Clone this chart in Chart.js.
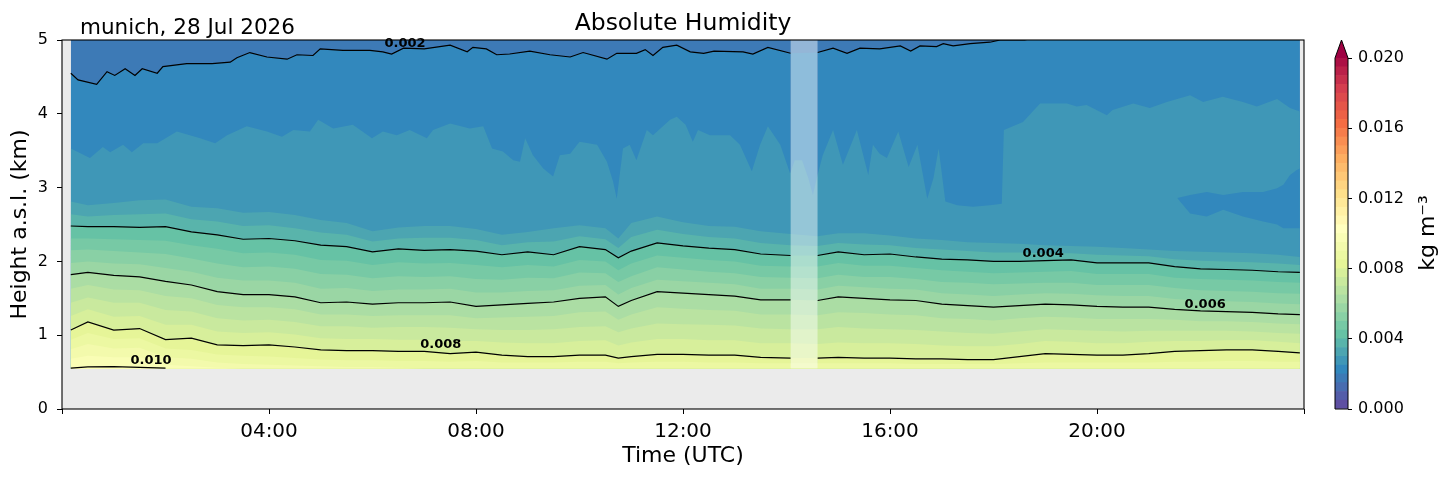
<!DOCTYPE html>
<html><head><meta charset="utf-8">
<script src="https://cdn.jsdelivr.net/npm/chart.js@4.4.1/dist/chart.umd.min.js"></script>
<style>
html,body{margin:0;padding:0;background:#fff;width:1454px;height:478px;overflow:hidden}
#main{position:absolute;left:0;top:0}
#cbar{position:absolute;left:1300px;top:0}
</style></head><body>
<canvas id="main" width="1454" height="478"></canvas>
<canvas id="cbar" width="154" height="478"></canvas>
<script>
// ---------------- DATA ----------------
const chartTitle = 'Absolute Humidity';
const siteLabel = 'munich, 28 Jul 2026';
const xTitle = 'Time (UTC)';
const yTitle = 'Height a.s.l. (km)';
const cbarTitle = 'kg m\u207B\u00B3';

const xTicks = [0, 4, 8, 12, 16, 20, 24];
const yTicks = [0, 1, 2, 3, 4, 5];
const cbarTicks = [0, 0.004, 0.008, 0.012, 0.016, 0.020];
const levels = [0,0.0005,0.001,0.0015,0.002,0.0025,0.003,0.0035,0.004,0.0045,0.005,0.0055,0.006,0.0065,0.007,0.0075,0.008,0.0085,0.009,0.0095,0.010,0.0105,0.011,0.0115,0.012,0.0125,0.013,0.0135,0.014,0.0145,0.015,0.0155,0.016,0.0165,0.017,0.0175,0.018,0.0185,0.019,0.0195,0.020];

const dataStart = 0.17, dataEnd = 23.92, dataBottom = 0.55, dataTop = 5;
const gapStart = 14.08, gapEnd = 14.6;

// common time grid (hours UTC)
const hours = [0.17,0.5,1,1.5,2,2.5,3,3.5,4,4.5,5,5.5,6,6.5,7,7.5,8,8.5,9,9.5,10,10.5,10.75,11,11.5,12,12.5,13,13.5,14.08,14.6,15,15.5,16,16.5,17,17.5,18,18.5,19,19.5,20,20.5,21,21.5,22,22.5,23,23.5,23.92];

// isoline heights (km)
const iso002Hours = [0.17,0.31,0.67,0.87,1.02,1.22,1.41,1.55,1.84,1.95,2.41,2.9,3.25,3.38,3.63,3.96,4.35,4.54,4.85,4.99,5.43,5.95,6.2,6.37,6.6,7.0,7.5,7.83,7.94,8.2,8.4,8.65,9.04,9.43,9.82,10.07,10.53,10.72,11.1,11.27,11.42,11.61,11.88,12.14,12.4,12.6,13.16,13.35,13.64,14.08,14.6,14.9,15.17,15.42,15.8,16.2,16.4,16.58,16.9,17.03,17.22,17.55,17.93,18.13,18.6,18.9,19.5,23.92];
const iso002 = [4.55,4.46,4.40,4.57,4.52,4.61,4.52,4.61,4.55,4.64,4.68,4.68,4.70,4.76,4.83,4.77,4.74,4.80,4.79,4.88,4.86,4.86,4.84,4.81,4.89,4.88,4.93,4.84,4.90,4.88,4.80,4.81,4.85,4.80,4.77,4.83,4.74,4.82,4.82,4.87,4.79,4.90,4.93,4.84,4.82,4.85,4.84,4.81,4.90,4.82,4.83,4.89,4.82,4.89,4.88,4.92,4.85,4.92,4.91,4.95,4.92,4.95,4.97,5.0,5.0,5.05,5.12,5.15];

const iso0025Hours = [0.17,0.54,0.79,0.93,1.18,1.35,1.57,1.84,2.22,2.67,2.96,3.19,3.57,3.96,4.25,4.47,4.79,4.95,5.24,5.62,5.99,6.2,6.47,6.72,7.05,7.17,7.5,7.88,8.14,8.31,8.52,8.72,8.85,8.95,9.1,9.3,9.49,9.62,9.82,10.0,10.34,10.53,10.65,10.72,10.84,10.97,11.1,11.3,11.42,11.75,11.88,12.05,12.19,12.29,12.52,12.91,13.1,13.33,13.49,13.64,13.88,14.07,14.16,14.3,14.42,14.51,14.6,14.7,14.9,15.09,15.36,15.58,15.67,15.8,15.94,16.16,16.36,16.53,16.72,16.84,16.94,17.07,17.3,17.6,17.93,18.16,18.2,18.57,18.9,19.42,19.61,19.8,20.19,20.3,20.7,21.02,21.35,21.8,22.05,22.43,22.82,23.09,23.48,23.73,23.92];
const iso0025 = [3.53,3.40,3.55,3.48,3.58,3.48,3.60,3.60,3.76,3.67,3.60,3.71,3.83,3.76,3.69,3.78,3.76,3.92,3.80,3.85,3.67,3.76,3.71,3.78,3.67,3.78,3.87,3.80,3.83,3.53,3.49,3.37,3.35,3.67,3.44,3.26,3.15,3.44,3.46,3.62,3.58,3.35,3.08,2.85,3.53,3.58,3.37,3.78,3.71,3.92,3.96,3.85,3.62,3.78,3.71,3.71,3.58,3.22,3.58,3.83,3.58,3.19,3.37,3.37,3.13,2.90,3.17,3.44,3.78,3.31,3.78,3.17,3.58,3.46,3.40,3.76,3.28,3.58,2.85,3.13,3.53,2.81,2.76,2.74,2.76,2.78,3.78,3.89,4.14,4.14,4.10,4.12,3.98,4.05,4.14,4.08,4.16,4.25,4.16,4.23,4.16,4.10,4.20,4.08,4.03];

// drier pocket (0.002-0.0025) inside the moister layer, late evening
const pocketHours = [21.55,21.8,22.12,22.44,22.82,23.21,23.48,23.6,23.73,23.86,23.92];
const pocketLow  = [2.86,2.65,2.61,2.70,2.61,2.54,2.50,2.45,2.45,2.45,2.45];
const pocketHigh = [2.86,2.90,2.94,2.90,2.94,2.94,2.99,3.04,3.17,3.24,3.26];

const iso003  = [2.81,2.76,2.79,2.83,2.84,2.74,2.72,2.66,2.67,2.63,2.56,2.52,2.41,2.46,2.48,2.48,2.44,2.36,2.40,2.45,2.49,2.45,2.31,2.52,2.61,2.53,2.48,2.47,2.41,2.37,2.34,2.38,2.38,2.35,2.31,2.29,2.26,2.25,2.24,2.22,2.21,2.20,2.18,2.16,2.14,2.13,2.12,2.11,2.09,2.06];
const iso0035 = [2.64,2.61,2.63,2.64,2.65,2.57,2.54,2.48,2.49,2.45,2.39,2.36,2.27,2.31,2.32,2.32,2.29,2.22,2.26,2.27,2.34,2.30,2.18,2.33,2.43,2.37,2.33,2.31,2.25,2.22,2.21,2.25,2.23,2.22,2.18,2.16,2.14,2.12,2.12,2.11,2.11,2.09,2.08,2.07,2.03,2.01,2.00,1.99,1.97,1.95];
const iso004  = [2.48,2.47,2.47,2.46,2.47,2.40,2.36,2.30,2.31,2.28,2.22,2.20,2.13,2.17,2.15,2.16,2.14,2.09,2.13,2.09,2.20,2.16,2.05,2.14,2.25,2.21,2.18,2.16,2.10,2.08,2.08,2.13,2.09,2.10,2.06,2.03,2.02,2.00,2.00,2.01,2.02,1.98,1.98,1.98,1.93,1.90,1.89,1.88,1.86,1.85];
const iso0045 = [2.31,2.31,2.30,2.29,2.28,2.22,2.17,2.11,2.12,2.09,2.02,2.01,1.95,1.99,1.97,1.98,1.95,1.92,1.95,1.93,2.02,2.00,1.88,1.97,2.08,2.05,2.02,2.00,1.94,1.93,1.93,1.98,1.94,1.94,1.91,1.88,1.86,1.84,1.85,1.86,1.87,1.83,1.83,1.83,1.78,1.76,1.75,1.74,1.72,1.71];
const iso005  = [2.15,2.16,2.14,2.12,2.10,2.04,1.97,1.92,1.93,1.90,1.83,1.82,1.77,1.80,1.79,1.80,1.76,1.75,1.78,1.77,1.85,1.84,1.72,1.80,1.92,1.89,1.86,1.84,1.79,1.78,1.77,1.82,1.79,1.79,1.76,1.72,1.71,1.69,1.70,1.71,1.71,1.68,1.68,1.68,1.64,1.61,1.60,1.59,1.57,1.56];
const iso0055 = [1.98,2.00,1.97,1.96,1.91,1.86,1.78,1.74,1.74,1.71,1.63,1.64,1.60,1.62,1.62,1.63,1.58,1.58,1.60,1.61,1.67,1.68,1.55,1.64,1.75,1.73,1.71,1.69,1.63,1.63,1.62,1.67,1.65,1.63,1.62,1.57,1.55,1.53,1.55,1.57,1.56,1.54,1.53,1.53,1.49,1.47,1.46,1.45,1.43,1.42];
const iso006  = [1.82,1.85,1.81,1.79,1.73,1.68,1.59,1.55,1.55,1.52,1.44,1.45,1.42,1.44,1.44,1.45,1.39,1.41,1.43,1.45,1.50,1.52,1.39,1.47,1.59,1.57,1.55,1.53,1.48,1.48,1.47,1.52,1.50,1.48,1.47,1.42,1.40,1.38,1.40,1.42,1.41,1.39,1.38,1.38,1.35,1.33,1.32,1.31,1.29,1.28];
const iso0065 = [1.63,1.68,1.62,1.61,1.53,1.50,1.41,1.38,1.38,1.35,1.28,1.28,1.26,1.27,1.27,1.27,1.23,1.24,1.25,1.26,1.31,1.32,1.21,1.28,1.38,1.36,1.34,1.33,1.28,1.28,1.27,1.31,1.30,1.28,1.27,1.23,1.22,1.20,1.23,1.25,1.24,1.22,1.22,1.22,1.21,1.19,1.19,1.18,1.16,1.15];
const iso007  = [1.44,1.51,1.44,1.44,1.34,1.32,1.23,1.20,1.21,1.18,1.12,1.12,1.10,1.11,1.11,1.10,1.08,1.07,1.07,1.08,1.11,1.12,1.04,1.09,1.16,1.15,1.14,1.13,1.09,1.08,1.08,1.11,1.09,1.08,1.07,1.05,1.03,1.02,1.05,1.08,1.07,1.06,1.05,1.06,1.06,1.06,1.06,1.05,1.03,1.02];
const iso0075 = [1.26,1.35,1.25,1.26,1.14,1.14,1.05,1.03,1.04,1.01,0.96,0.95,0.95,0.94,0.94,0.92,0.92,0.90,0.89,0.89,0.92,0.93,0.86,0.90,0.95,0.95,0.93,0.93,0.89,0.89,0.88,0.90,0.89,0.89,0.88,0.86,0.85,0.85,0.88,0.92,0.91,0.89,0.89,0.91,0.92,0.92,0.93,0.93,0.91,0.89];
const iso008  = [1.07,1.18,1.07,1.09,0.94,0.96,0.87,0.86,0.87,0.84,0.80,0.79,0.79,0.78,0.78,0.75,0.77,0.73,0.71,0.71,0.73,0.73,0.69,0.71,0.74,0.74,0.73,0.73,0.70,0.69,0.69,0.70,0.69,0.69,0.68,0.68,0.67,0.67,0.71,0.75,0.74,0.73,0.73,0.75,0.78,0.79,0.80,0.80,0.78,0.76];
const iso0085 = [0.94,1.03,0.95,0.96,0.82,0.80,0.74,0.72,0.71,0.69,0.67,0.66,0.66,0.65,0.65,0.64,0.65,0.63,0.63,0.63,0.64,0.64,0.62,0.63,0.64,0.64,0.63,0.63,0.62,0.62,0.62,0.62,0.62,0.62,0.61,0.61,0.61,0.61,0.62,0.63,0.63,0.63,0.63,0.63,0.64,0.64,0.65,0.65,0.64,0.64];
const iso009  = [0.81,0.88,0.82,0.83,0.70,0.68,0.63,0.61,0.60,0.59,0.58,0.57,0.57,0.56,0.55,0.55,0.55,0.55,0.55,0.55,0.55,0.55,0.55,0.55,0.55,0.55,0.55,0.55,0.55,0.55,0.55,0.55,0.55,0.55,0.55,0.55,0.55,0.55,0.55,0.55,0.55,0.55,0.55,0.55,0.55,0.55,0.55,0.55,0.55,0.55];
const iso0095 = [0.68,0.72,0.70,0.70,0.60,0.58,0.56,0.55,0.55,0.55,0.55,0.55,0.55,0.55,0.55,0.55,0.55,0.55,0.55,0.55,0.55,0.55,0.55,0.55,0.55,0.55,0.55,0.55,0.55,0.55,0.55,0.55,0.55,0.55,0.55,0.55,0.55,0.55,0.55,0.55,0.55,0.55,0.55,0.55,0.55,0.55,0.55,0.55,0.55,0.55];
const iso010  = [0.555,0.57,0.575,0.565,0.555,null,null,null,null,null,null,null,null,null,null,null,null,null,null,null,null,null,null,null,null,null,null,null,null,null,null,null,null,null,null,null,null,null,null,null,null,null,null,null,null,null,null,null,null,null];

const contourLabelText = ['0.002','0.004','0.006','0.008','0.010'];
const contourLabelHours = [6.63,18.96,22.09,7.32,1.72];
const contourLabelHeights = [4.95,2.10,1.41,0.87,0.65];

// ---------------- STYLE ----------------
const FONT = 'DejaVu Sans';
Chart.defaults.font.family = FONT;
const SPECTRAL_R = [[94,79,162],[50,136,189],[102,194,165],[171,221,164],[230,245,152],[255,255,191],[254,224,139],[253,174,97],[244,109,67],[213,62,79],[158,1,66]];
function spectralR(f){
  f = Math.min(1, Math.max(0, f));
  const p = f*10, k = Math.min(9, Math.floor(p)), u = p-k;
  const a = SPECTRAL_R[k], b = SPECTRAL_R[k+1];
  return 'rgb(' + [0,1,2].map(j=>Math.round(a[j]+(b[j]-a[j])*u)).join(',') + ')';
}
const levelMax = levels[levels.length-1];
function bandColor(lower){ return spectralR(lower/levelMax); }

const gapSeg = c => (c.p0.parsed.x >= gapStart-0.02 && c.p1.parsed.x <= gapEnd+0.02) ? 'rgba(0,0,0,0)' : '#000';
function pts(xs, ys){ return xs.map((x,k)=>({x:x, y:ys[k]})); }
function band(lower, xs, ys, isLine){
  return {
    data: pts(xs, ys),
    backgroundColor: bandColor(lower),
    borderColor: isLine ? '#000' : 'rgba(0,0,0,0)',
    borderWidth: isLine ? 1.2 : 0,
    fill: {value: dataBottom},
    pointRadius: 0, tension: 0, spanGaps: false,
    segment: isLine ? {borderColor: gapSeg} : undefined
  };
}

const ds = [];
ds.push(band(0.0015, [dataStart, dataEnd], [dataTop, dataTop], false));
ds.push(band(0.002, iso002Hours, iso002, true));
ds.push(band(0.0025, iso0025Hours, iso0025, false));
ds.push({data: pts(pocketHours, pocketHigh), backgroundColor: bandColor(0.002), borderWidth:0, borderColor:'rgba(0,0,0,0)', fill:'+1', pointRadius:0, tension:0});
ds.push({data: pts(pocketHours, pocketLow), borderWidth:0, borderColor:'rgba(0,0,0,0)', fill:false, pointRadius:0, tension:0});
[[0.003,iso003,false],[0.0035,iso0035,false],[0.004,iso004,true],[0.0045,iso0045,false],[0.005,iso005,false],
 [0.0055,iso0055,false],[0.006,iso006,true],[0.0065,iso0065,false],[0.007,iso007,false],[0.0075,iso0075,false],
 [0.008,iso008,true],[0.0085,iso0085,false],[0.009,iso009,false],[0.0095,iso0095,false],[0.010,iso010,true]]
 .forEach(r => ds.push(band(r[0], hours, r[1], r[2])));
ds.forEach((d,k)=>{ d.order = ds.length - k; });

const decor = {
  id: 'decor',
  beforeDraw(chart){
    const {ctx, chartArea:a} = chart;
    ctx.save(); ctx.fillStyle = '#ebebeb';
    ctx.fillRect(a.left, a.top, a.right-a.left, a.bottom-a.top); ctx.restore();
  },
  afterDatasetsDraw(chart){
    const {ctx, chartArea:a, scales:{x, y}} = chart;
    ctx.save();
    const x0 = x.getPixelForValue(gapStart), x1 = x.getPixelForValue(gapEnd);
    const yT = y.getPixelForValue(dataTop), yB = y.getPixelForValue(dataBottom);
    ctx.fillStyle = 'rgba(255,255,255,0.45)';
    ctx.fillRect(x0, yT, x1-x0, yB-yT);
    ctx.fillStyle = '#000';
    ctx.font = 'bold 13px "DejaVu Sans"';
    ctx.textAlign = 'center'; ctx.textBaseline = 'middle';
    contourLabelText.forEach((t,k)=>{
      ctx.fillText(t, x.getPixelForValue(contourLabelHours[k]), y.getPixelForValue(contourLabelHeights[k]));
    });
    ctx.strokeStyle = '#000'; ctx.lineWidth = 1.1;
    ctx.strokeRect(a.left, a.top, a.right-a.left, a.bottom-a.top);
    ctx.font = '23.5px "DejaVu Sans"'; ctx.textBaseline = 'alphabetic';
    ctx.fillText(chartTitle, (a.left+a.right)/2, 30);
    ctx.textAlign = 'left'; ctx.font = '21.5px "DejaVu Sans"';
    ctx.fillText(siteLabel, 80, 33.5);
    ctx.restore();
  }
};

new Chart(document.getElementById('main'), {
  type: 'line',
  data: {datasets: ds},
  options: {
    responsive: false, animation: false, events: [],
    layout: {padding: {left:0, right:150, top:40, bottom:0}},
    plugins: {legend:{display:false}, tooltip:{enabled:false}, filler:{propagate:false}},
    scales: {
      x: {
        type: 'linear', min: 0, max: 24,
        afterBuildTicks: s => { s.ticks = xTicks.map(v=>({value:v})); },
        afterFit: s => { s.height = 69; },
        ticks: {callback: v => (v===xTicks[0] || v===xTicks[xTicks.length-1]) ? '' : String(v).padStart(2,'0')+':00',
                font:{size:20}, color:'#000', padding:6, maxRotation:0, autoSkip:false},
        grid: {display:true, drawOnChartArea:false, drawTicks:true, tickLength:5, tickColor:'#000', tickWidth:1},
        border: {display:false},
        title: {display:true, text:xTitle, font:{size:22}, color:'#000', padding:{top:0, bottom:9}}
      },
      y: {
        type: 'linear', min: 0, max: 5,
        afterBuildTicks: s => { s.ticks = yTicks.map(v=>({value:v})); },
        afterFit: s => { s.width = 62; },
        ticks: {font:{size:16}, color:'#000', padding:9},
        grid: {display:true, drawOnChartArea:false, drawTicks:true, tickLength:5, tickColor:'#000', tickWidth:1},
        border: {display:false},
        title: {display:true, text:yTitle, font:{size:22}, color:'#000', padding:{top:7, bottom:0}}
      }
    }
  },
  plugins: [decor]
});

// ---------------- COLORBAR ----------------
const bandLowers = levels.slice(0, -1);
const cbarDecor = {
  id: 'cbarDecor',
  afterDraw(chart){
    const {ctx, chartArea:a} = chart;
    const cx = (a.left+a.right)/2, tip = a.top - 18;
    ctx.save();
    ctx.fillStyle = spectralR(1);
    ctx.beginPath(); ctx.moveTo(a.left, a.top); ctx.lineTo(cx, tip); ctx.lineTo(a.right, a.top); ctx.closePath(); ctx.fill();
    ctx.strokeStyle = '#000'; ctx.lineWidth = 1;
    ctx.beginPath(); ctx.moveTo(a.left, a.bottom); ctx.lineTo(a.left, a.top); ctx.lineTo(cx, tip);
    ctx.lineTo(a.right, a.top); ctx.lineTo(a.right, a.bottom); ctx.closePath(); ctx.stroke();
    ctx.fillStyle = '#000'; ctx.font = '22px "DejaVu Sans"';
    ctx.translate(128, 233); ctx.rotate(-Math.PI/2);
    ctx.textAlign = 'center'; ctx.textBaseline = 'middle';
    ctx.fillText(cbarTitle, 0, 0);
    ctx.restore();
  }
};
new Chart(document.getElementById('cbar'), {
  type: 'bar',
  data: {labels: [''], datasets: bandLowers.map(lv => ({data:[levels[1]-levels[0]], backgroundColor: bandColor(lv), borderWidth:0, barPercentage:1, categoryPercentage:1}))},
  options: {
    responsive: false, animation: false, events: [],
    layout: {padding: {left:35, top:58, bottom:69, right:0}},
    plugins: {legend:{display:false}, tooltip:{enabled:false}},
    scales: {
      x: {display:false, stacked:true},
      y: {
        stacked: true, position: 'right', min: 0, max: levelMax,
        afterBuildTicks: s => { s.ticks = cbarTicks.map(v=>({value:v})); },
        afterFit: s => { s.width = 106; },
        ticks: {callback: v => v.toFixed(3), font:{size:16}, color:'#000', padding:6},
        grid: {display:true, drawOnChartArea:false, drawTicks:true, tickLength:4, tickColor:'#000'},
        border: {display:false}
      }
    }
  },
  plugins: [cbarDecor]
});
</script>
</body></html>
